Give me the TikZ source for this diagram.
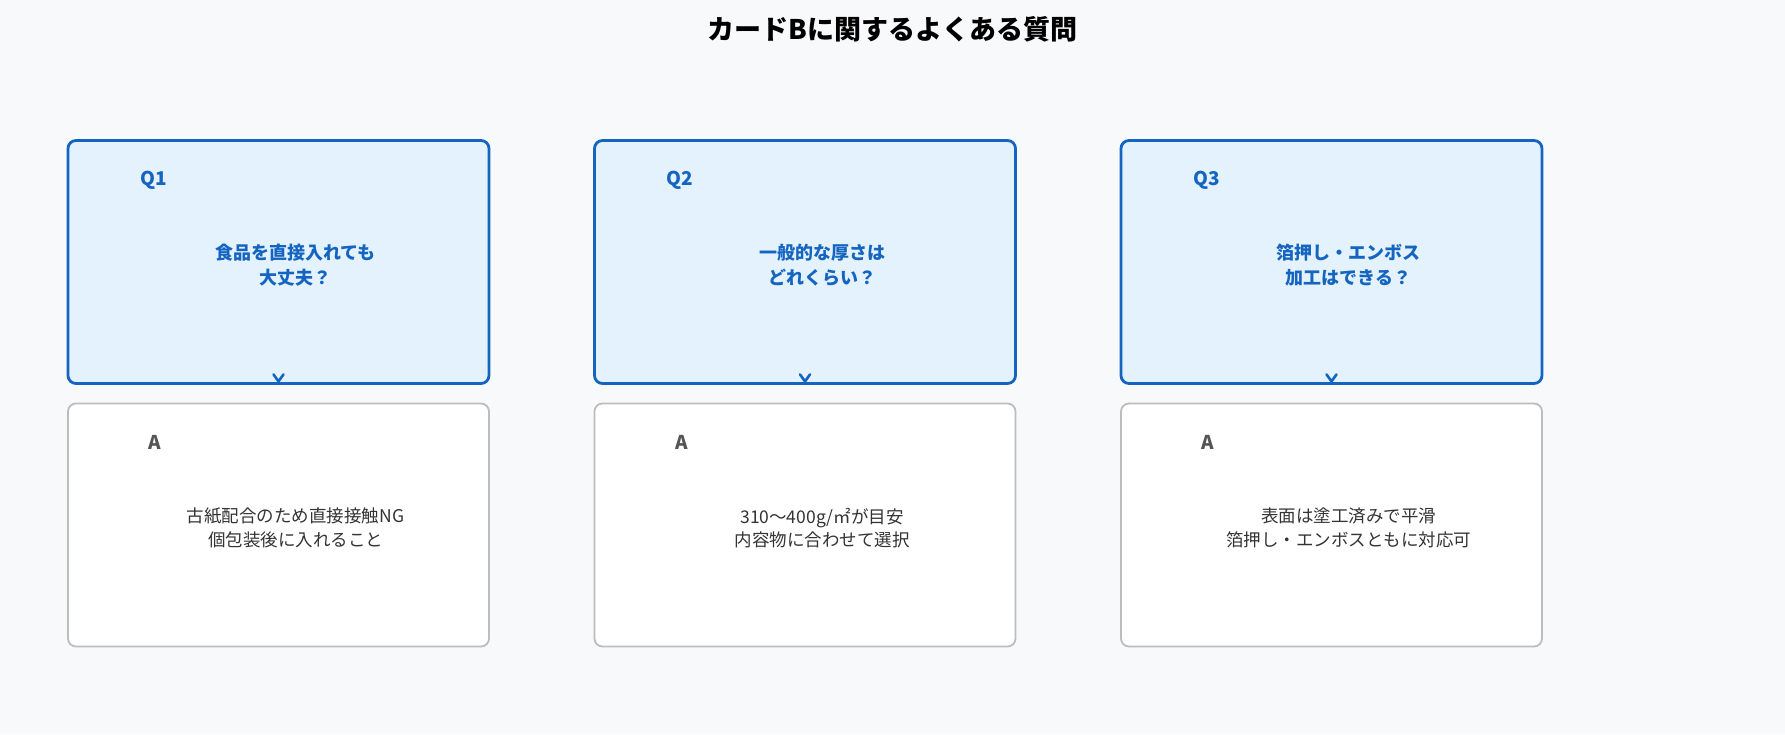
\documentclass[tikz,border=0pt]{standalone}
\usepackage{fontspec}
\setmainfont{Noto Sans CJK JP}
\definecolor{bgc}{HTML}{F8F9FA}
\definecolor{qfill}{HTML}{E3F2FD}
\definecolor{qline}{HTML}{1565C0}
\definecolor{aline}{HTML}{BDBDBD}
\definecolor{alab}{HTML}{555555}
\definecolor{atext}{HTML}{333333}
\begin{document}
\begin{tikzpicture}[x=1pt,y=-1pt,
  qbox/.style={draw=qline,fill=qfill,line width=2.8pt,rounded corners=8pt,minimum width=421pt,minimum height=243pt,inner sep=0pt},
  abox/.style={draw=aline,fill=white,line width=1.8pt,rounded corners=8pt,minimum width=421pt,minimum height=243pt,inner sep=0pt},
  qlab/.style={text=qline,font=\bfseries\fontsize{19}{22}\selectfont,inner sep=0pt},
  alab/.style={text=alab,font=\bfseries\fontsize{19}{22}\selectfont,inner sep=0pt},
  qtxt/.style={text=qline,font=\bfseries\fontsize{18}{25}\selectfont,align=center,inner sep=0pt},
  atxt/.style={text=atext,font=\fontsize{17.5}{23.5}\selectfont,align=center,inner sep=0pt},
  chev/.style={draw=qline,line width=2.6pt,line cap=round,line join=round}
]
\fill[bgc] (0,0) rectangle (1785,734);
\useasboundingbox (0,0) rectangle (1785,734);
\node[font=\bfseries\fontsize{27}{30}\selectfont,inner sep=0pt] (title) at (892.5,29) {カードBに関するよくある質問};
\foreach \i/\x/\qt/\at in {1/278.5/{食品を直接入れても\\大丈夫？}/{古紙配合のため直接接触NG\\個包装後に入れること},
  2/805/{一般的な厚さは\\どれくらい？}/{310〜400g/㎡が目安\\内容物に合わせて選択},
  3/1331.5/{箔押し・エンボス\\加工はできる？}/{表面は塗工済みで平滑\\箔押し・エンボスともに対応可}} {
  \node[qbox] (q\i) at (\x,262) {};
  \node[abox] (a\i) at (\x,525) {};
  \node[qlab] (ql\i) at ([xshift=87pt,yshift=-41pt]q\i.north west) {Q\i};
  \node[alab] (al\i) at ([xshift=88pt,yshift=-40pt]a\i.north west) {A};
  \node[qtxt] (qt\i) at ([xshift=17pt,yshift=-3pt]q\i.center) {\qt};
  \node[atxt] (at\i) at ([xshift=17pt,yshift=-3pt]a\i.center) {\at};
  \coordinate (c\i) at ([yshift=6pt]q\i.south);
  \draw[chev] ([xshift=-5pt,yshift=4.5pt]c\i) -- ([yshift=-2.5pt]c\i) -- ([xshift=5pt,yshift=4.5pt]c\i);
}
\end{tikzpicture}
\end{document}
